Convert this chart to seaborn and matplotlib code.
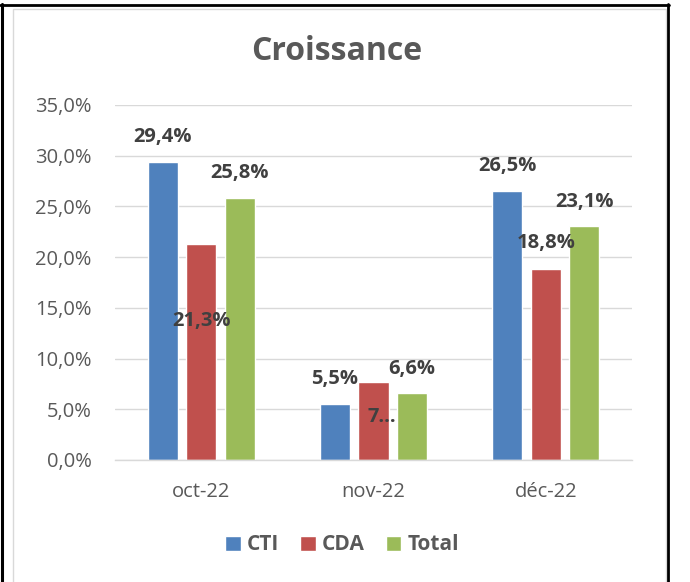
import numpy as np
import pandas as pd
import matplotlib
matplotlib.use("Agg")
import matplotlib.pyplot as plt
import matplotlib.ticker as mticker
from matplotlib.lines import Line2D
from matplotlib.patches import Rectangle
import seaborn as sns

# data (growth, in %)
months = ["oct-22", "nov-22", "déc-22"]
series = ["CTI", "CDA", "Total"]
cti = [29.4, 5.5, 26.5]
cda = [21.3, 7.7, 18.8]
total = [25.8, 6.6, 23.1]
labels = {
    "CTI": ["29,4%", "5,5%", "26,5%"],
    "CDA": ["21,3%", "7…", "18,8%"],
    "Total": ["25,8%", "6,6%", "23,1%"],
}
y_ticks = [0, 5, 10, 15, 20, 25, 30, 35]

COLORS = ["#4F81BD", "#C0504D", "#9BBB59"]
# where Excel dropped each data label, in pixels from the top of the bar
LABEL_OFFSETS = {
    "CTI": [(0, 25), (0, 25), (0, 25)],
    "CDA": [(0, -77), (8, -35), (0, 26)],
    "Total": [(0, 25), (0, 24), (0, 24)],
}

df = pd.DataFrame({
    "month": months * 3,
    "serie": [s for s in series for _ in months],
    "value": cti + cda + total,
})

sns.set_theme(style="white")
plt.rcParams["font.family"] = ["Open Sans", "DejaVu Sans"]

W, H = 690, 582
fig = plt.figure(figsize=(W / 100, H / 100), dpi=100)
ax = fig.add_axes([115 / W, 1 - 460 / H, (632 - 115) / W, (460 - 105) / H])

sns.barplot(data=df, x="month", y="value", hue="serie", order=months,
            hue_order=series, palette=COLORS, width=0.67, gap=0.22,
            saturation=1, ax=ax, legend=True)

ax.set_xlim(-0.5, 2.5)
ax.set_ylim(0, 35)
ax.set_yticks(y_ticks)
ax.yaxis.set_major_formatter(mticker.FuncFormatter(lambda v, _: f"{v:.1f}%".replace(".", ",")))
ax.grid(axis="y", color="#D9D9D9", lw=1)
ax.set_axisbelow(True)
for side in ("top", "right", "left"):
    ax.spines[side].set_visible(False)
ax.spines["bottom"].set_color("#D9D9D9")
ax.spines["bottom"].set_linewidth(1)
ax.set_xlabel("")
ax.set_ylabel("")
ax.tick_params(axis="y", length=0, pad=17, labelsize=14.5, labelcolor="#595959")
ax.tick_params(axis="x", which="major", length=0, pad=16, labelsize=14.5, labelcolor="#595959")
ax.set_xticks([-0.5, 0.5, 1.5, 2.5], minor=True)
ax.tick_params(axis="x", which="minor", length=6, width=1, color="#D9D9D9", direction="out")

for serie, cont in zip(series, ax.containers):
    for bar, txt, (dx, dy) in zip(cont, labels[serie], LABEL_OFFSETS[serie]):
        ax.annotate(txt, (bar.get_x() + bar.get_width() / 2, bar.get_height()),
                    xytext=(dx, dy), textcoords="offset pixels",
                    ha="center", va="center", fontsize=14.5,
                    fontweight="bold", color="#404040")

ax.legend(loc="center", bbox_to_anchor=(342 / W, 1 - 545 / H),
          bbox_transform=fig.transFigure, ncol=3, frameon=False,
          handlelength=0.75, handleheight=0.75, handletextpad=0.3,
          columnspacing=1.0, prop={"weight": "bold", "size": 15},
          labelcolor="#595959")

fig.text(337 / W, 1 - 51 / H, "Croissance", ha="center", va="center",
         fontsize=23, fontweight="bold", color="#595959")

# chart frame (light) and the surrounding page border (black)
fig.add_artist(Rectangle((13 / W, -0.01), (666 - 13) / W, 1 - 9 / H + 0.01,
                         transform=fig.transFigure, fill=False,
                         edgecolor="#D9D9D9", lw=1))
fig.add_artist(Line2D([1.5 / W, 1.5 / W], [0, 1 - 4 / H], transform=fig.transFigure,
                      color="black", lw=2.2))
fig.add_artist(Line2D([0, 669 / W], [1 - 4.5 / H, 1 - 4.5 / H], transform=fig.transFigure,
                      color="black", lw=2))
fig.add_artist(Line2D([668 / W, 668 / W], [0, 1 - 4 / H], transform=fig.transFigure,
                      color="black", lw=2))

fig.savefig("out.png", dpi=100)
